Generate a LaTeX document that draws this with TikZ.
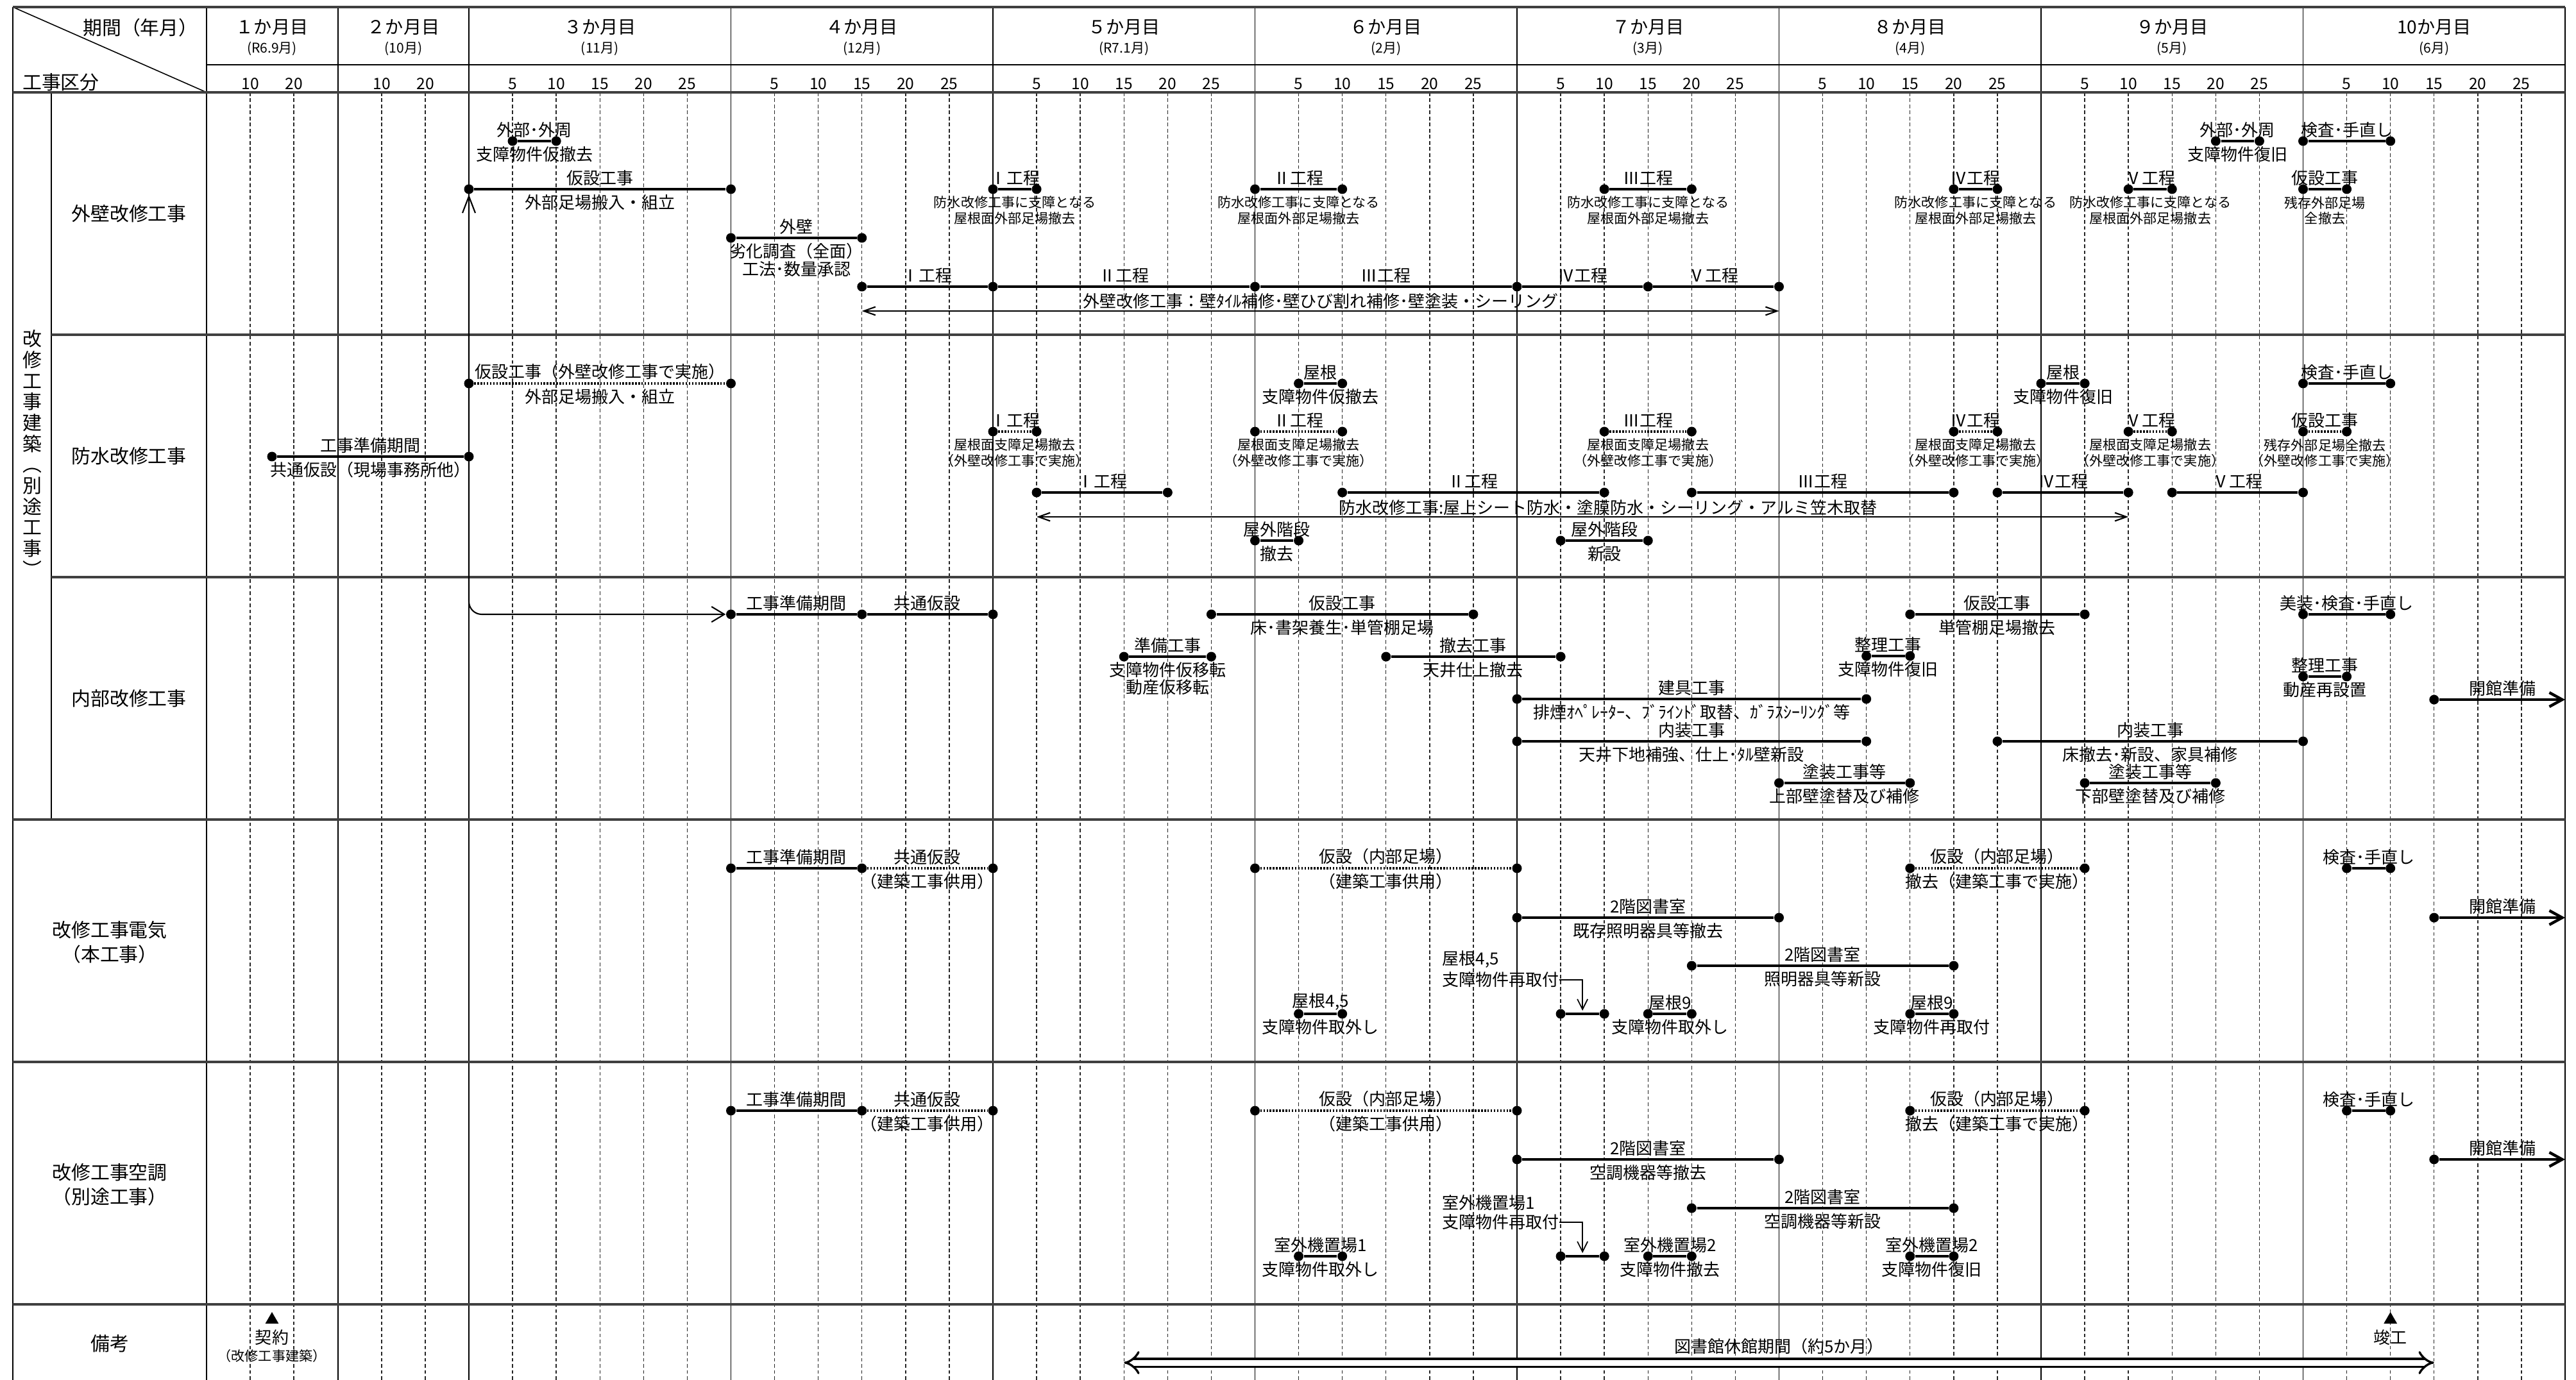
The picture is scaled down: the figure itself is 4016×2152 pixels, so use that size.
\documentclass[tikz,border=0pt]{standalone}
\usepackage{fontspec}
\setmainfont{Noto Sans CJK JP}
\usetikzlibrary{arrows.meta}
\usetikzlibrary{shapes.geometric}
\usetikzlibrary{positioning}

\newcommand\fbig{\fontsize{8.5}{10.8}\selectfont}
\newcommand\fvert{\fontsize{8.5}{9.3}\selectfont}
\newcommand\fmon{\fontsize{8}{9}\selectfont}
\newcommand\fsub{\fontsize{6}{7}\selectfont}
\newcommand\fday{\fontsize{7}{8}\selectfont}
\newcommand\fmid{\fontsize{7.4}{7.8}\selectfont}
\newcommand\fsml{\fontsize{6}{6.9}\selectfont}

\begin{document}
\begin{tikzpicture}
		[x=0.1mm, y=-0.1mm,
		 declare function={dayx(\m,\d)=731+(\m-3)*408.5+\d*13.617;},
		 mline/.style = {line width=0.45pt},
		 dline/.style = {line width=0.4pt, black!85, dash pattern=on 1.6pt off 1.1pt},
		 rowline/.style = {line width=1.3pt, black!75},
		 dot/.style = {circle, fill, inner sep=0pt, minimum size=1.5mm},
		 task/.style = {line width=1.25pt},
		 dtask/.style = {line width=1.25pt, dash pattern=on 0.7pt off 0.7pt},
		 lt/.style = {font=\fmid, above=0.35mm, inner sep=0pt, align=center},
		 lb/.style = {font=\fmid, below=0.65mm, inner sep=0pt, align=center},
		 lbs/.style = {font=\fsml, below=0.9mm, inner sep=0pt, align=center},
		 spanline/.style = {line width=0.6pt, {Straight Barb[length=1.8mm,width=1.3mm]}-{Straight Barb[length=1.8mm,width=1.3mm]}},
		 link/.style = {line width=0.6pt, rounded corners=2mm, {Straight Barb[length=2.6mm,width=2mm]}-{Straight Barb[length=2mm,width=2.4mm]}},
		 leader/.style = {line width=0.5pt, -{Straight Barb[length=1.6mm,width=1.6mm]}},
		 opening/.style = {line width=1.25pt, -{Straight Barb[length=2mm,width=2.2mm]}},
		 dblarrow/.style = {double, double distance=0.9mm, line width=0.95pt, {Implies}-{Implies}},
		 tri/.style = {regular polygon, regular polygon sides=3, fill, inner sep=0pt, minimum size=2.4mm}]
	\useasboundingbox (0,0) rectangle (4016,2152);

	% grid
	\foreach \x in {390,458,595,663} \draw[dline] (\x,144) -- (\x,2152);
	\foreach \m in {3,...,10} \foreach \d in {5,10,...,25} \draw[dline] ({dayx(\m,\d)},144) -- ({dayx(\m,\d)},2152);
	\foreach \x in {20,322,527,731} \draw[mline] (\x,11) -- (\x,2152);
	\foreach \m in {4,...,11} \draw[mline] ({dayx(\m,0)},11) -- ({dayx(\m,0)},2152);
	\draw[mline] (80,144) -- (80,1278);
	\draw[mline] (20,11) -- (322,144);
	\draw[mline] (322,101) -- (3999,101);
	\foreach \y in {11,144,1278,1656,2034} \draw[rowline] (20,\y) -- (3999,\y);
	\foreach \y in {522,900} \draw[rowline] (80,\y) -- (3999,\y);

	% header
	\node[font=\fbig] (hper) at (219,43) {期間（年月）};
	\node[font=\fbig] (hkind) at (95,128) {工事区分};
	\node[font=\fmon] (mh1) at (424,43) {１か月目};
	\node[font=\fsub] (ms1) at (424,76) {(R6.9月)};
	\node[font=\fmon] (mh2) at (629,43) {２か月目};
	\node[font=\fsub] (ms2) at (629,76) {(10月)};
	\foreach \m/\t/\s in {3/３か月目/{(11月)},4/４か月目/{(12月)},5/５か月目/{(R7.1月)},6/６か月目/{(2月)},7/７か月目/{(3月)},8/８か月目/{(4月)},9/９か月目/{(5月)},10/10か月目/{(6月)}} {
		\node[font=\fmon] (mh\m) at ({dayx(\m,15)},43) {\t};
		\node[font=\fsub] (ms\m) at ({dayx(\m,15)},76) {\s};
	}
	\foreach \x/\d in {390/10,458/20,595/10,663/20} \node[font=\fday] (dn\x) at (\x,131) {\d};
	\foreach \m in {3,...,10} \foreach \d in {5,10,...,25} \node[font=\fday] (d\m x\d) at ({dayx(\m,\d)},131) {\d};

	% row labels
	\node[font=\fvert, align=center] (grp) at (50,707) {改\\修\\工\\事\\建\\築\\︵\\別\\途\\工\\事\\︶};
	\node[font=\fbig] (r1) at (201,333) {外壁改修工事};
	\node[font=\fbig] (r2) at (201,711) {防水改修工事};
	\node[font=\fbig] (r3) at (201,1089) {内部改修工事};
	\node[font=\fbig, align=center] (r4) at (171,1469) {改修工事電気\\（本工事）};
	\node[font=\fbig, align=center] (r5) at (171,1847) {改修工事空調\\（別途工事）};
	\node[font=\fbig] (r6) at (171,2095) {備考};

	% 外壁改修工事
	\node[dot] (w1a) at ({dayx(3,5)},220) {};
	\node[dot] (w1b) at ({dayx(3,10)},220) {};
	\draw[task] (w1a) -- node[lt] (w1t) {外部･外周} node[lb] (w1u) {支障物件仮撤去} (w1b);
	\node[dot] (w2a) at ({dayx(3,0)},295) {};
	\node[dot] (w2b) at ({dayx(4,0)},295) {};
	\draw[task] (w2a) -- node[lt] (w2t) {仮設工事} node[lb] (w2u) {外部足場搬入・組立} (w2b);
	\node[dot] (w3a) at ({dayx(4,0)},371) {};
	\node[dot] (w3b) at ({dayx(4,15)},371) {};
	\draw[task] (w3a) -- node[lt] (w3t) {外壁} node[lb] (w3u) {劣化調査（全面）\\工法･数量承認} (w3b);
	\node[dot] (w4a) at ({dayx(5,0)},295) {};
	\node[dot] (w4b) at ({dayx(5,5)},295) {};
	\draw[task] (w4a) -- node[lt] (w4t) {Ⅰ工程} node[lbs] (w4u) {防水改修工事に支障となる\\屋根面外部足場撤去} (w4b);
	\node[dot] (w5a) at ({dayx(6,0)},295) {};
	\node[dot] (w5b) at ({dayx(6,10)},295) {};
	\draw[task] (w5a) -- node[lt] (w5t) {Ⅱ工程} node[lbs] (w5u) {防水改修工事に支障となる\\屋根面外部足場撤去} (w5b);
	\node[dot] (w6a) at ({dayx(7,10)},295) {};
	\node[dot] (w6b) at ({dayx(7,20)},295) {};
	\draw[task] (w6a) -- node[lt] (w6t) {Ⅲ工程} node[lbs] (w6u) {防水改修工事に支障となる\\屋根面外部足場撤去} (w6b);
	\node[dot] (w7a) at ({dayx(8,20)},295) {};
	\node[dot] (w7b) at ({dayx(8,25)},295) {};
	\draw[task] (w7a) -- node[lt] (w7t) {Ⅳ工程} node[lbs] (w7u) {防水改修工事に支障となる\\屋根面外部足場撤去} (w7b);
	\node[dot] (w8a) at ({dayx(9,10)},295) {};
	\node[dot] (w8b) at ({dayx(9,15)},295) {};
	\draw[task] (w8a) -- node[lt] (w8t) {Ⅴ工程} node[lbs] (w8u) {防水改修工事に支障となる\\屋根面外部足場撤去} (w8b);
	\node[dot] (w9a) at ({dayx(10,0)},295) {};
	\node[dot] (w9b) at ({dayx(10,5)},295) {};
	\draw[task] (w9a) -- node[lt] (w9t) {仮設工事} node[lbs] (w9u) {残存外部足場\\全撤去} (w9b);
	\node[dot] (w10a) at ({dayx(9,20)},220) {};
	\node[dot] (w10b) at ({dayx(9,25)},220) {};
	\draw[task] (w10a) -- node[lt] (w10t) {外部･外周} node[lb] (w10u) {支障物件復旧} (w10b);
	\node[dot] (w11a) at ({dayx(10,0)},220) {};
	\node[dot] (w11b) at ({dayx(10,10)},220) {};
	\draw[task] (w11a) -- node[lt] (w11t) {検査･手直し} (w11b);
	\node[dot] (t1) at ({dayx(4,15)},447) {};
	\node[dot] (t2) at ({dayx(5,0)},447) {};
	\node[dot] (t3) at ({dayx(6,0)},447) {};
	\node[dot] (t4) at ({dayx(7,0)},447) {};
	\node[dot] (t5) at ({dayx(7,15)},447) {};
	\node[dot] (t6) at ({dayx(8,0)},447) {};
	\draw[task] (t1) -- node[lt] (t1t) {Ⅰ工程} (t2);
	\draw[task] (t2) -- node[lt] (t2t) {Ⅱ工程} (t3);
	\draw[task] (t3) -- node[lt] (t3t) {Ⅲ工程} (t4);
	\draw[task] (t4) -- node[lt] (t4t) {Ⅳ工程} (t5);
	\draw[task] (t5) -- node[lt] (t5t) {Ⅴ工程} (t6);
	\coordinate (wa1) at ({dayx(4,15)},485);
	\coordinate (wa2) at ({dayx(8,0)},485);
	\draw[spanline] (wa1) -- node[font=\fmid, above=0.2mm, inner sep=0pt] (wat) {外壁改修工事：壁ﾀｲﾙ補修･壁ひび割れ補修･壁塗装・シーリング} (wa2);

	% 防水改修工事
	\node[dot] (b1a) at (424,712) {};
	\node[dot] (b1b) at ({dayx(3,0)},712) {};
	\draw[task] (b1a) -- node[lt] (b1t) {工事準備期間} node[lb] (b1u) {共通仮設（現場事務所他）} (b1b);
	\node[dot] (b2a) at ({dayx(3,0)},598) {};
	\node[dot] (b2b) at ({dayx(4,0)},598) {};
	\draw[dtask] (b2a) -- node[lt] (b2t) {仮設工事（外壁改修工事で実施）} node[lb] (b2u) {外部足場搬入・組立} (b2b);
	\node[dot] (b3a) at ({dayx(5,0)},673) {};
	\node[dot] (b3b) at ({dayx(5,5)},673) {};
	\draw[dtask] (b3a) -- node[lt] (b3t) {Ⅰ工程} node[lbs] (b3u) {屋根面支障足場撤去\\（外壁改修工事で実施）} (b3b);
	\node[dot] (b4a) at ({dayx(6,0)},673) {};
	\node[dot] (b4b) at ({dayx(6,10)},673) {};
	\draw[dtask] (b4a) -- node[lt] (b4t) {Ⅱ工程} node[lbs] (b4u) {屋根面支障足場撤去\\（外壁改修工事で実施）} (b4b);
	\node[dot] (b5a) at ({dayx(7,10)},673) {};
	\node[dot] (b5b) at ({dayx(7,20)},673) {};
	\draw[dtask] (b5a) -- node[lt] (b5t) {Ⅲ工程} node[lbs] (b5u) {屋根面支障足場撤去\\（外壁改修工事で実施）} (b5b);
	\node[dot] (b6a) at ({dayx(8,20)},673) {};
	\node[dot] (b6b) at ({dayx(8,25)},673) {};
	\draw[dtask] (b6a) -- node[lt] (b6t) {Ⅳ工程} node[lbs] (b6u) {屋根面支障足場撤去\\（外壁改修工事で実施）} (b6b);
	\node[dot] (b7a) at ({dayx(9,10)},673) {};
	\node[dot] (b7b) at ({dayx(9,15)},673) {};
	\draw[dtask] (b7a) -- node[lt] (b7t) {Ⅴ工程} node[lbs] (b7u) {屋根面支障足場撤去\\（外壁改修工事で実施）} (b7b);
	\node[dot] (b8a) at ({dayx(10,0)},673) {};
	\node[dot] (b8b) at ({dayx(10,5)},673) {};
	\draw[dtask] (b8a) -- node[lt] (b8t) {仮設工事} node[lbs] (b8u) {残存外部足場全撤去\\（外壁改修工事で実施）} (b8b);
	\node[dot] (b9a) at ({dayx(6,5)},598) {};
	\node[dot] (b9b) at ({dayx(6,10)},598) {};
	\draw[task] (b9a) -- node[lt] (b9t) {屋根} node[lb] (b9u) {支障物件仮撤去} (b9b);
	\node[dot] (b10a) at ({dayx(9,0)},598) {};
	\node[dot] (b10b) at ({dayx(9,5)},598) {};
	\draw[task] (b10a) -- node[lt] (b10t) {屋根} node[lb] (b10u) {支障物件復旧} (b10b);
	\node[dot] (b11a) at ({dayx(10,0)},598) {};
	\node[dot] (b11b) at ({dayx(10,10)},598) {};
	\draw[task] (b11a) -- node[lt] (b11t) {検査･手直し} (b11b);
	\node[dot] (b12a) at ({dayx(5,5)},768) {};
	\node[dot] (b12b) at ({dayx(5,20)},768) {};
	\draw[task] (b12a) -- node[lt] (b12t) {Ⅰ工程} (b12b);
	\node[dot] (b13a) at ({dayx(6,10)},768) {};
	\node[dot] (b13b) at ({dayx(7,10)},768) {};
	\draw[task] (b13a) -- node[lt] (b13t) {Ⅱ工程} (b13b);
	\node[dot] (b14a) at ({dayx(7,20)},768) {};
	\node[dot] (b14b) at ({dayx(8,20)},768) {};
	\draw[task] (b14a) -- node[lt] (b14t) {Ⅲ工程} (b14b);
	\node[dot] (b15a) at ({dayx(8,25)},768) {};
	\node[dot] (b15b) at ({dayx(9,10)},768) {};
	\draw[task] (b15a) -- node[lt] (b15t) {Ⅳ工程} (b15b);
	\node[dot] (b16a) at ({dayx(9,15)},768) {};
	\node[dot] (b16b) at ({dayx(10,0)},768) {};
	\draw[task] (b16a) -- node[lt] (b16t) {Ⅴ工程} (b16b);
	\coordinate (ba1) at ({dayx(5,5)},806);
	\coordinate (ba2) at ({dayx(9,10)},806);
	\draw[spanline] (ba1) -- (ba2);
	\node[font=\fmid] (bat) at (2507,792) {防水改修工事:屋上シート防水・塗膜防水・シーリング・アルミ笠木取替};
	\node[dot] (b17a) at ({dayx(6,0)},843) {};
	\node[dot] (b17b) at ({dayx(6,5)},843) {};
	\draw[task] (b17a) -- node[lt] (b17t) {屋外階段} node[lb] (b17u) {撤去} (b17b);
	\node[dot] (b18a) at ({dayx(7,5)},843) {};
	\node[dot] (b18b) at ({dayx(7,15)},843) {};
	\draw[task] (b18a) -- node[lt] (b18t) {屋外階段} node[lb] (b18u) {新設} (b18b);

	% 内部改修工事
	\node[dot] (n1a) at ({dayx(4,0)},958) {};
	\node[dot] (n1b) at ({dayx(4,15)},958) {};
	\node[dot] (n2b) at ({dayx(5,0)},958) {};
	\draw[task] (n1a) -- node[lt] (n1t) {工事準備期間} (n1b);
	\draw[task] (n1b) -- node[lt] (n2t) {共通仮設} (n2b);
	\draw[link] (w2a) |- (n1a);
	\node[dot] (n3a) at ({dayx(5,25)},958) {};
	\node[dot] (n3b) at ({dayx(6,25)},958) {};
	\draw[task] (n3a) -- node[lt] (n3t) {仮設工事} node[lb] (n3u) {床･書架養生･単管棚足場} (n3b);
	\node[dot] (n4a) at ({dayx(5,15)},1024) {};
	\node[dot] (n4b) at ({dayx(5,25)},1024) {};
	\draw[task] (n4a) -- node[lt] (n4t) {準備工事} node[lb] (n4u) {支障物件仮移転\\動産仮移転} (n4b);
	\node[dot] (n5a) at ({dayx(6,15)},1024) {};
	\node[dot] (n5b) at ({dayx(7,5)},1024) {};
	\draw[task] (n5a) -- node[lt] (n5t) {撤去工事} node[lb] (n5u) {天井仕上撤去} (n5b);
	\node[dot] (n6a) at ({dayx(7,0)},1090) {};
	\node[dot] (n6b) at ({dayx(8,10)},1090) {};
	\draw[task] (n6a) -- node[lt] (n6t) {建具工事} node[lb] (n6u) {排煙ｵﾍﾟﾚｰﾀｰ、ﾌﾞﾗｲﾝﾄﾞ取替、ｶﾞﾗｽｼｰﾘﾝｸﾞ等} (n6b);
	\node[dot] (n7a) at ({dayx(7,0)},1156) {};
	\node[dot] (n7b) at ({dayx(8,10)},1156) {};
	\draw[task] (n7a) -- node[lt] (n7t) {内装工事} node[lb] (n7u) {天井下地補強、仕上･ﾀﾙ壁新設} (n7b);
	\node[dot] (n8a) at ({dayx(8,10)},1023) {};
	\node[dot] (n8b) at ({dayx(8,15)},1023) {};
	\draw[task] (n8a) -- node[lt] (n8t) {整理工事} node[lb] (n8u) {支障物件復旧} (n8b);
	\node[dot] (n9a) at ({dayx(8,0)},1221) {};
	\node[dot] (n9b) at ({dayx(8,15)},1221) {};
	\draw[task] (n9a) -- node[lt] (n9t) {塗装工事等} node[lb] (n9u) {上部壁塗替及び補修} (n9b);
	\node[dot] (n10a) at ({dayx(8,15)},958) {};
	\node[dot] (n10b) at ({dayx(9,5)},958) {};
	\draw[task] (n10a) -- node[lt] (n10t) {仮設工事} node[lb] (n10u) {単管棚足場撤去} (n10b);
	\node[dot] (n11a) at ({dayx(8,25)},1156) {};
	\node[dot] (n11b) at ({dayx(10,0)},1156) {};
	\draw[task] (n11a) -- node[lt] (n11t) {内装工事} node[lb] (n11u) {床撤去･新設、家具補修} (n11b);
	\node[dot] (n12a) at ({dayx(9,5)},1221) {};
	\node[dot] (n12b) at ({dayx(9,20)},1221) {};
	\draw[task] (n12a) -- node[lt] (n12t) {塗装工事等} node[lb] (n12u) {下部壁塗替及び補修} (n12b);
	\node[dot] (n13a) at ({dayx(10,0)},958) {};
	\node[dot] (n13b) at ({dayx(10,10)},958) {};
	\draw[task] (n13a) -- node[lt] (n13t) {美装･検査･手直し} (n13b);
	\node[dot] (n14a) at ({dayx(10,0)},1055) {};
	\node[dot] (n14b) at ({dayx(10,5)},1055) {};
	\draw[task] (n14a) -- node[lt] (n14t) {整理工事} node[lb] (n14u) {動産再設置} (n14b);
	\node[dot] (n15a) at ({dayx(10,15)},1091) {};
	\coordinate (n15b) at (3999,1091);
	\draw[opening] (n15a) -- node[lt] (n15t) {開館準備} (n15b);

	% 改修工事電気
	\node[dot] (e1a) at ({dayx(4,0)},1354) {};
	\node[dot] (e1b) at ({dayx(4,15)},1354) {};
	\node[dot] (e2b) at ({dayx(5,0)},1354) {};
	\draw[task] (e1a) -- node[lt] (e1t) {工事準備期間} (e1b);
	\draw[dtask] (e1b) -- node[lt] (e2t) {共通仮設} node[lb] (e2u) {（建築工事供用）} (e2b);
	\node[dot] (e3a) at ({dayx(6,0)},1354) {};
	\node[dot] (e3b) at ({dayx(7,0)},1354) {};
	\draw[dtask] (e3a) -- node[lt] (e3t) {仮設（内部足場）} node[lb] (e3u) {（建築工事供用）} (e3b);
	\node[dot] (e4a) at ({dayx(8,15)},1354) {};
	\node[dot] (e4b) at ({dayx(9,5)},1354) {};
	\draw[dtask] (e4a) -- node[lt] (e4t) {仮設（内部足場）} node[lb] (e4u) {撤去（建築工事で実施）} (e4b);
	\node[dot] (e5a) at ({dayx(10,5)},1354) {};
	\node[dot] (e5b) at ({dayx(10,10)},1354) {};
	\draw[task] (e5a) -- node[lt] (e5t) {検査･手直し} (e5b);
	\node[dot] (e6a) at ({dayx(10,15)},1431) {};
	\coordinate (e6b) at (3999,1431);
	\draw[opening] (e6a) -- node[lt] (e6t) {開館準備} (e6b);
	\node[dot] (e7a) at ({dayx(7,0)},1431) {};
	\node[dot] (e7b) at ({dayx(8,0)},1431) {};
	\draw[task] (e7a) -- node[lt] (e7t) {2階図書室} node[lb] (e7u) {既存照明器具等撤去} (e7b);
	\node[dot] (e8a) at ({dayx(7,20)},1506) {};
	\node[dot] (e8b) at ({dayx(8,20)},1506) {};
	\draw[task] (e8a) -- node[lt] (e8t) {2階図書室} node[lb] (e8u) {照明器具等新設} (e8b);
	\node[dot] (e9a) at ({dayx(6,5)},1581) {};
	\node[dot] (e9b) at ({dayx(6,10)},1581) {};
	\draw[task] (e9a) -- node[lt] (e9t) {屋根4,5} node[lb] (e9u) {支障物件取外し} (e9b);
	\node[dot] (e10a) at ({dayx(7,5)},1581) {};
	\node[dot] (e10b) at ({dayx(7,10)},1581) {};
	\draw[task] (e10a) -- (e10b);
	\node[font=\fmid, anchor=west, inner sep=0pt] (e10u) at (2248,1528) {支障物件再取付};
	\node[font=\fmid, inner sep=0pt] (e10t) [above=0.5mm of e10u.north west, anchor=south west] {屋根4,5};
	\coordinate (e10c) at ({dayx(7,7.5)},1576);
	\draw[leader] (e10u.east) -| (e10c);
	\node[dot] (e11a) at ({dayx(7,15)},1581) {};
	\node[dot] (e11b) at ({dayx(7,20)},1581) {};
	\draw[task] (e11a) -- node[lt] (e11t) {屋根9} node[lb] (e11u) {支障物件取外し} (e11b);
	\node[dot] (e12a) at ({dayx(8,15)},1581) {};
	\node[dot] (e12b) at ({dayx(8,20)},1581) {};
	\draw[task] (e12a) -- node[lt] (e12t) {屋根9} node[lb] (e12u) {支障物件再取付} (e12b);

	% 改修工事空調
	\node[dot] (a1a) at ({dayx(4,0)},1732) {};
	\node[dot] (a1b) at ({dayx(4,15)},1732) {};
	\node[dot] (a2b) at ({dayx(5,0)},1732) {};
	\draw[task] (a1a) -- node[lt] (a1t) {工事準備期間} (a1b);
	\draw[dtask] (a1b) -- node[lt] (a2t) {共通仮設} node[lb] (a2u) {（建築工事供用）} (a2b);
	\node[dot] (a3a) at ({dayx(6,0)},1732) {};
	\node[dot] (a3b) at ({dayx(7,0)},1732) {};
	\draw[dtask] (a3a) -- node[lt] (a3t) {仮設（内部足場）} node[lb] (a3u) {（建築工事供用）} (a3b);
	\node[dot] (a4a) at ({dayx(8,15)},1732) {};
	\node[dot] (a4b) at ({dayx(9,5)},1732) {};
	\draw[dtask] (a4a) -- node[lt] (a4t) {仮設（内部足場）} node[lb] (a4u) {撤去（建築工事で実施）} (a4b);
	\node[dot] (a5a) at ({dayx(10,5)},1732) {};
	\node[dot] (a5b) at ({dayx(10,10)},1732) {};
	\draw[task] (a5a) -- node[lt] (a5t) {検査･手直し} (a5b);
	\node[dot] (a6a) at ({dayx(10,15)},1808) {};
	\coordinate (a6b) at (3999,1808);
	\draw[opening] (a6a) -- node[lt] (a6t) {開館準備} (a6b);
	\node[dot] (a7a) at ({dayx(7,0)},1808) {};
	\node[dot] (a7b) at ({dayx(8,0)},1808) {};
	\draw[task] (a7a) -- node[lt] (a7t) {2階図書室} node[lb] (a7u) {空調機器等撤去} (a7b);
	\node[dot] (a8a) at ({dayx(7,20)},1884) {};
	\node[dot] (a8b) at ({dayx(8,20)},1884) {};
	\draw[task] (a8a) -- node[lt] (a8t) {2階図書室} node[lb] (a8u) {空調機器等新設} (a8b);
	\node[dot] (a9a) at ({dayx(6,5)},1959) {};
	\node[dot] (a9b) at ({dayx(6,10)},1959) {};
	\draw[task] (a9a) -- node[lt] (a9t) {室外機置場1} node[lb] (a9u) {支障物件取外し} (a9b);
	\node[dot] (a10a) at ({dayx(7,5)},1959) {};
	\node[dot] (a10b) at ({dayx(7,10)},1959) {};
	\draw[task] (a10a) -- (a10b);
	\node[font=\fmid, anchor=west, inner sep=0pt] (a10u) at (2248,1906) {支障物件再取付};
	\node[font=\fmid, inner sep=0pt] (a10t) [above=0.5mm of a10u.north west, anchor=south west] {室外機置場1};
	\coordinate (a10c) at ({dayx(7,7.5)},1954);
	\draw[leader] (a10u.east) -| (a10c);
	\node[dot] (a11a) at ({dayx(7,15)},1959) {};
	\node[dot] (a11b) at ({dayx(7,20)},1959) {};
	\draw[task] (a11a) -- node[lt] (a11t) {室外機置場2} node[lb] (a11u) {支障物件撤去} (a11b);
	\node[dot] (a12a) at ({dayx(8,15)},1959) {};
	\node[dot] (a12b) at ({dayx(8,20)},1959) {};
	\draw[task] (a12a) -- node[lt] (a12t) {室外機置場2} node[lb] (a12u) {支障物件復旧} (a12b);

	% 備考
	\node[tri] (k1) at (424,2058) {};
	\node[font=\fmid, inner sep=0pt] (k1t) [below=0.8mm of k1] {契約};
	\node[font=\fsml, inner sep=0pt] (k1u) [below=0.6mm of k1t] {（改修工事建築）};
	\node[tri] (k2) at ({dayx(10,10)},2058) {};
	\node[font=\fmid, inner sep=0pt] (k2t) [below=0.8mm of k2] {竣工};
	\coordinate (h1) at ({dayx(5,15)},2125);
	\coordinate (h2) at ({dayx(10,15)},2125);
	\draw[dblarrow] (h1) -- node[font=\fmid, above=1.1mm, inner sep=0pt] (ht) {図書館休館期間（約5か月）} (h2);
\end{tikzpicture}
\end{document}
